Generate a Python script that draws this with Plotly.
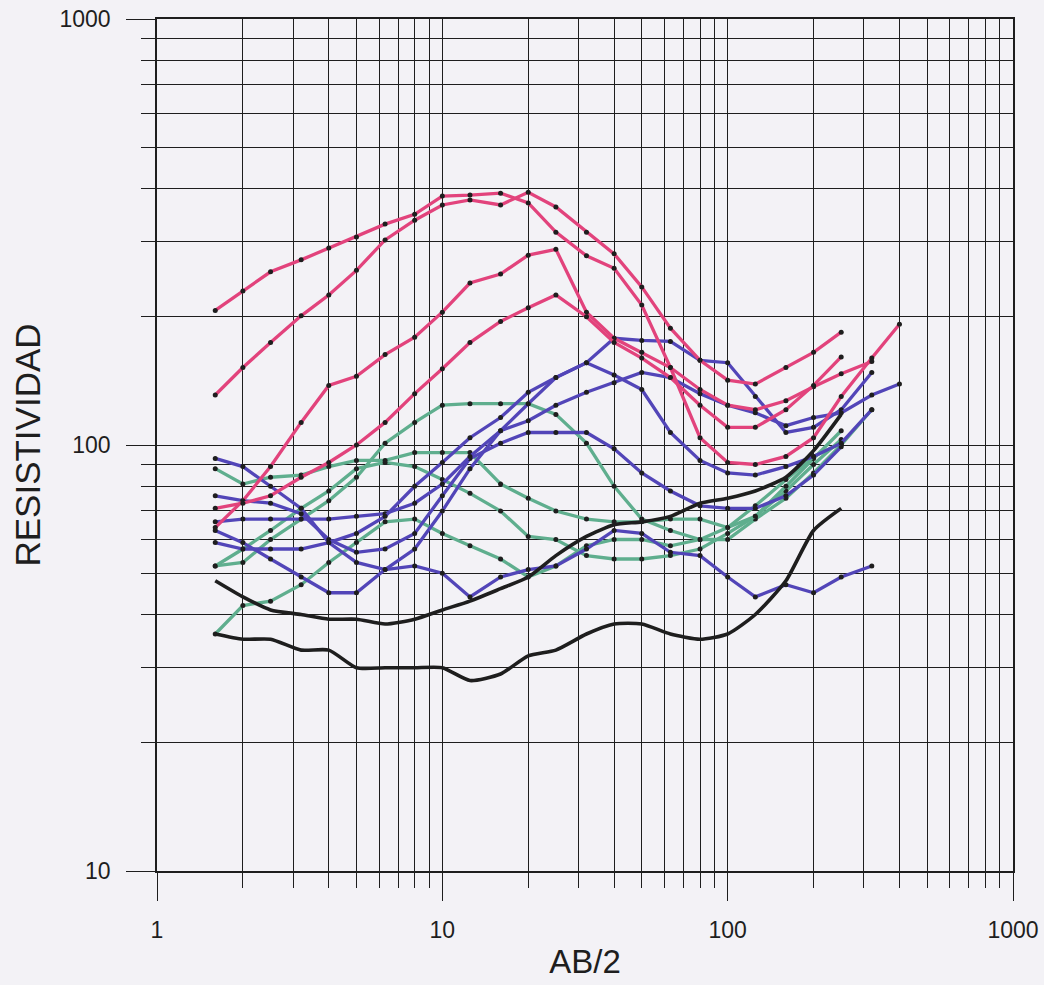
import plotly.graph_objects as go

# AB/2 sampling positions (metres)
AB2 = [1.6, 2, 2.5, 3.2, 4, 5, 6.3, 8, 10, 12.5, 16, 20, 25, 32, 40, 50, 63, 80,
       100, 125, 160, 200, 250, 320, 400]

# Apparent resistivity curves
pink_1 = [207, 230, 255, 272, 290, 308, 330, 348, 384, 386, 390, 370, 316, 278, 260,
          213, 152, 104, 91, 90, 94, 104, 130, 160, 192]
pink_2 = [131, 152, 174, 201, 225, 257, 303, 337, 366, 376, 366, 392, 362, 316, 281,
          235, 188, 158, 142, 139, 152, 165, 184]
pink_3 = [64, 74, 89, 113, 138, 145, 163, 179, 205, 240, 252, 279, 288, 205, 178,
          165, 152, 135, 124, 121, 127, 137, 147, 157]
pink_4 = [71, 73, 76, 84, 91, 100, 113, 132, 151, 174, 195, 210, 225, 200, 174,
          160, 144, 124, 110, 110, 121, 138, 161]

green_1 = [52, 53, 60, 67, 74, 84, 101, 113, 124, 125, 125, 125, 118, 101, 80,
           67, 63, 60, 60, 67, 75, 86, 100, 121]
green_2 = [88, 81, 84, 85, 89, 92, 92, 96, 96, 96, 81, 75, 70, 67, 66,
           66, 67, 67, 64, 68, 78, 90, 103]
green_3 = [52, 57, 63, 71, 78, 88, 91, 89, 83, 77, 70, 61, 60, 55, 54,
           54, 55, 57, 62, 68, 80, 93, 108]
green_4 = [36, 42, 43, 47, 53, 59, 66, 67, 62, 58, 54, 49, 52, 58, 60,
           60, 58, 60, 64, 72, 83, 94, 101]

blue_1 = [93, 89, 80, 71, 59, 53, 51, 52, 50, 44, 49, 51, 52, 57, 63,
          62, 56, 55, 49, 44, 47, 45, 49, 52]
blue_2 = [76, 74, 73, 69, 60, 56, 57, 62, 76, 93, 101, 107, 107, 107, 98,
          86, 78, 72, 71, 71, 76, 85, 99]
blue_3 = [66, 67, 67, 67, 67, 68, 69, 73, 81, 94, 108, 125, 144, 156, 146,
          135, 107, 92, 86, 85, 89, 94, 101, 121]
blue_4 = [59, 57, 57, 57, 59, 62, 68, 80, 91, 104, 116, 133, 144, 156, 178,
          176, 175, 158, 156, 130, 107, 110, 121, 148]
blue_5 = [63, 59, 54, 49, 45, 45, 51, 57, 70, 88, 108, 114, 124, 133, 140,
          148, 144, 132, 124, 119, 111, 116, 119, 131, 139]

black_1 = [48, 44, 41, 40, 39, 39, 38, 39, 41, 43, 46, 49, 55, 61, 65,
           66, 68, 73, 75, 78, 84, 97, 118]
black_2 = [36, 35, 35, 33, 33, 30, 30, 30, 30, 28, 29, 32, 33, 36, 38,
           38, 36, 35, 36, 40, 48, 63, 71]

X_TICKS = [1, 10, 100, 1000]
X_TICKTEXT = ["1", "10", "100", "1000"]
Y_TICKS = [10, 100, 1000]
Y_TICKTEXT = ["10", "100", "1000"]
X_MINOR = [m * d for d in (1, 10, 100) for m in range(2, 10)]
Y_MINOR = [m * d for d in (10, 100) for m in range(2, 10)]

PINK = "#e2437c"
GREEN = "#5fae8e"
BLUE = "#5245b8"
INK = "#1e1e1e"
BG = "#f3f2f6"

fig = go.Figure()

groups = [
    (GREEN, [green_1, green_2, green_3, green_4]),
    (BLUE, [blue_1, blue_2, blue_3, blue_4, blue_5]),
    (PINK, [pink_1, pink_2, pink_3, pink_4]),
]
for color, series in groups:
    for vals in series:
        fig.add_trace(go.Scatter(
            x=AB2[:len(vals)], y=vals, mode="lines+markers",
            line=dict(color=color, width=3.3),
            marker=dict(color=INK, size=5),
            hoverinfo="x+y"))

for vals in (black_1, black_2):
    fig.add_trace(go.Scatter(
        x=AB2[:len(vals)], y=vals, mode="lines",
        line=dict(color=INK, width=3.6, shape="spline", smoothing=0.6),
        hoverinfo="x+y"))

grid = dict(showgrid=True, gridcolor=INK, gridwidth=1.4, zeroline=False,
            showline=True, linecolor=INK, linewidth=1.6, mirror=True,
            ticks="outside", tickcolor=INK, tickwidth=1.4, automargin=False,
            ticklabeloverflow="allow")

fig.update_xaxes(
    type="log", range=[0, 3], tickmode="array", tickvals=X_TICKS,
    ticktext=X_TICKTEXT, ticklen=28, tickfont=dict(size=23, color=INK),
    ticklabelstandoff=10,
    title=dict(text="AB/2", font=dict(size=33, color=INK), standoff=7),
    minor=dict(tickmode="array", tickvals=X_MINOR, ticks="outside", ticklen=15,
               tickcolor=INK, tickwidth=1.4, showgrid=True, gridcolor=INK,
               gridwidth=1.4),
    **grid)

fig.update_yaxes(
    type="log", range=[1, 3], tickmode="array", tickvals=Y_TICKS,
    ticktext=Y_TICKTEXT, ticklen=29, tickfont=dict(size=23, color=INK),
    ticklabelstandoff=11,
    title=dict(text="RESISTIVIDAD", font=dict(size=35, color=INK), standoff=8),
    minor=dict(tickmode="array", tickvals=Y_MINOR, ticks="outside", ticklen=14,
               tickcolor=INK, tickwidth=1.4, showgrid=True, gridcolor=INK,
               gridwidth=1.4),
    **grid)

fig.update_layout(
    width=1044, height=985,
    margin=dict(l=157, r=31, t=19, b=114),
    paper_bgcolor=BG, plot_bgcolor=BG,
    showlegend=False,
    font=dict(family="Liberation Sans, Arial, sans-serif", color=INK),
)

# remove the browser's default 8px body margin so the figure fills the window
fig.write_html("out.html",
               config={"displayModeBar": False},
               post_script="document.body.style.margin='0px';"
                           "document.body.style.background='%s';" % BG)
